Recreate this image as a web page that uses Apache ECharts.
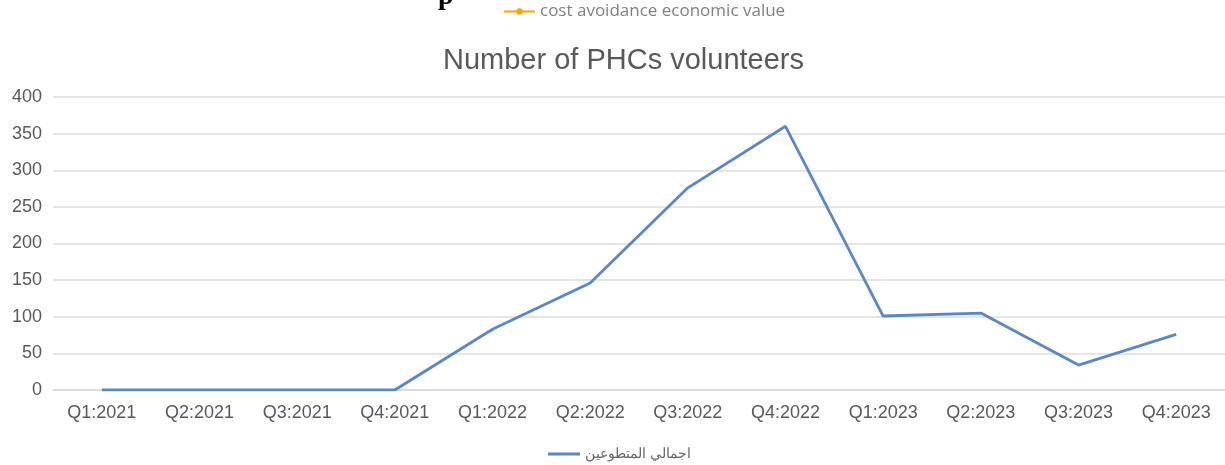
<!DOCTYPE html>
<html><head><meta charset="utf-8">
<script src="https://cdn.jsdelivr.net/npm/echarts@6/dist/echarts.min.js"></script>
<style>html,body{margin:0;padding:0;background:#fff}#c{width:1225px;height:465px}</style>
</head><body><div id="c"></div>
<script>
var categories = ['Q1:2021','Q2:2021','Q3:2021','Q4:2021','Q1:2022','Q2:2022','Q3:2022','Q4:2022','Q1:2023','Q2:2023','Q3:2023','Q4:2023'];
var volunteers = [0,0,0,0,83,146,276,360,101,105,34,76];
var seriesName = 'اجمالي المتطوعين';
var otherName = 'cost avoidance economic value';
var titleText = 'Number of PHCs volunteers';

var chart = echarts.init(document.getElementById('c'), null, {renderer:'canvas'});
chart.setOption({
  animation:false,
  textStyle:{fontFamily:'Liberation Sans, Arial, sans-serif'},
  title:{text:titleText, left:438, top:41, textStyle:{fontSize:29, fontWeight:'normal', color:'#595959', fontFamily:'Liberation Sans, Arial, sans-serif'}},
  graphic:[{type:'text', left:438, top:-17, style:{text:'p', font:'bold 28px "Liberation Serif", serif', fill:'#000'}}],
  legend:[
    {data:[{name:seriesName, icon:'rect'}], top:442, left:543, itemWidth:32, itemHeight:3, itemGap:6, textStyle:{fontSize:14, color:'#666'}},
    {data:[otherName], top:-2, left:498, itemWidth:31, itemHeight:8, itemGap:6, textStyle:{fontSize:17, color:'#808080', fontFamily:'Open Sans, sans-serif'}}
  ],
  grid:{left:53, top:97, width:1176, height:293},
  xAxis:{type:'category', data:categories, boundaryGap:true,
    axisLine:{show:true, lineStyle:{color:'#d9d9d9', width:1.5}}, axisTick:{show:false},
    axisLabel:{fontSize:18, color:'#595959', margin:14}},
  yAxis:{type:'value', min:0, max:400, interval:50,
    axisLine:{show:false}, axisTick:{show:false},
    axisLabel:{fontSize:18, color:'#595959', margin:11},
    splitLine:{lineStyle:{color:'#dcdcdc', width:1.5}}},
  series:[
    {name:seriesName, type:'line', data:volunteers, symbol:'none', lineStyle:{color:'#5b87c4', width:2.8}, itemStyle:{color:'#5b87c4'}},
    {name:otherName, type:'line', data:[], symbol:'circle', symbolSize:7, lineStyle:{color:'#f5a800', width:2.5}, itemStyle:{color:'#f5a800'}}
  ]
});
</script></body></html>
